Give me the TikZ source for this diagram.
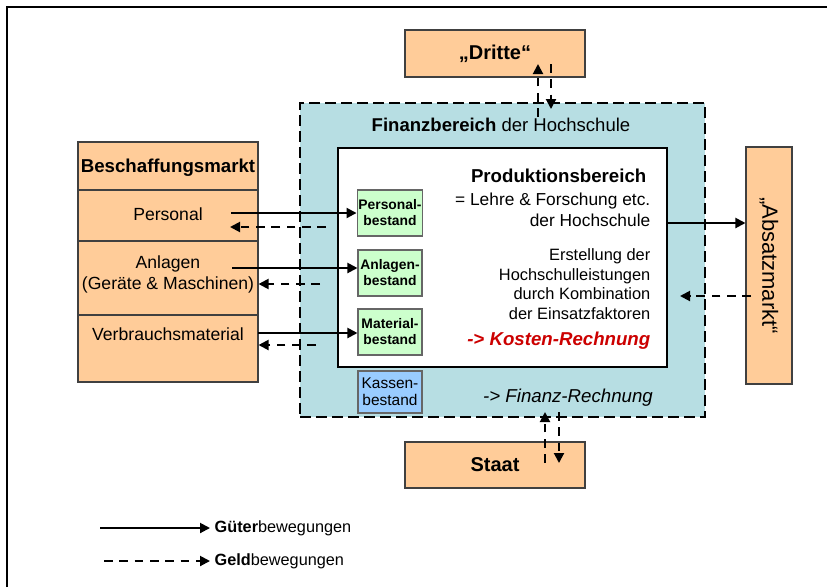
\documentclass[tikz,border=0pt]{standalone}
\usepackage{fontspec}
\setmainfont{Liberation Sans}
\usetikzlibrary{arrows.meta}
\definecolor{Peach}{RGB}{255,204,153}
\definecolor{Aqua}{RGB}{183,222,227}
\definecolor{Mint}{RGB}{204,255,204}
\definecolor{Sky}{RGB}{153,204,255}
\definecolor{Rust}{RGB}{204,0,0}
\newcommand\fs[2]{\fontsize{#1}{#2}\selectfont}

\begin{document}
\begin{tikzpicture}[
  x=0.75pt,
  y=-0.75pt,
  every node/.style={font=\fs{13.2}{15.75}},
  ware/.style={-{Triangle[length=7.5pt,width=7.5pt]}, line width=1.5pt},
  geld/.style={ware, dash pattern=on 6.5pt off 5pt},
  markt/.style={draw=black!75, fill=Peach, line width=0.8pt},
  bestand/.style={draw=black!60, fill=Mint, line width=0.8pt,
    minimum width=48pt, minimum height=34.5pt, inner sep=1pt,
    align=center, font=\fs{10.4}{12}\bfseries}
  ]
\useasboundingbox (0,0) rectangle (827,587);
\draw[line width=2pt] (7,587) -- (7,7) -- (827,7);

% Finanzbereich und Produktionsbereich
\node[draw, fill=Aqua, line width=1.8pt, dash pattern=on 8pt off 4pt,
  minimum width=303.75pt, minimum height=235.5pt] (finanz) at (502.5,260) {};
\node[font=\fs{13.9}{16}] (ftitle) at (501,125)
  {\textbf{Finanzbereich} der Hochschule};
\node[draw, fill=white, line width=1.8pt,
  minimum width=246.75pt, minimum height=164.25pt] (prod) at (502.5,257.5) {};
\node[anchor=east, font=\fs{14}{16}\bfseries] (ptitle) at (651,176)
  {Produktionsbereich};
\node[anchor=east, align=right, font=\fs{13}{15.75}] (plehre) at (655,210)
  {= Lehre \& Forschung etc.\\der Hochschule};
\node[anchor=east, align=right, font=\fs{12.3}{14.6}] (perst) at (655,284)
  {Erstellung der\\Hochschulleistungen\\durch Kombination\\der Einsatzfaktoren};
\node[anchor=east, text=Rust, font=\fs{14}{16}\bfseries\itshape] (kosten)
  at (655,341) {-> Kosten-Rechnung};
\node[font=\fs{14}{16}\itshape] (frech) at (568,398) {-> Finanz-Rechnung};

% Bestaende
\foreach \n/\y/\t in {pb/213/Personal-\\bestand,
  ab/273/Anlagen-\\bestand, mb/332/Material-\\bestand}
  \node[bestand] (\n) at (390,\y) {\t};
\node[bestand, fill=Sky, minimum height=31.5pt, font=\fs{11.6}{13}] (kb)
  at (390,392) {Kassen-\\bestand};

% Maerkte
\node[markt, minimum width=135pt, minimum height=180pt] (markt) at (168,262) {};
\foreach \y in {190,241,315}
  \draw[draw=black!75, line width=0.8pt] (78,\y) -- (258,\y);
\node[font=\fs{14}{16}\bfseries] (mtitle) at (168,168) {Beschaffungsmarkt};
\node (pers) at (168,214) {Personal};
\node[align=center] (anl) at (168,274) {Anlagen\\(Geräte \& Maschinen)};
\node (verb) at (168,334) {Verbrauchsmaterial};
\node[markt, minimum width=135pt, minimum height=35.25pt,
  font=\fs{15}{17}\bfseries] (dritte) at (495,53.5) {„Dritte“};
\node[markt, minimum width=135pt, minimum height=34.5pt,
  font=\fs{15}{17}\bfseries] (staat) at (495,465) {Staat};
\node[markt, minimum width=34.5pt, minimum height=177.75pt] (absatz)
  at (769,265.5) {};
\node[rotate=-90, font=\fs{16.5}{18}] (atext) at (absatz) {„Absatzmarkt“};

% Gueter- und Geldstroeme
\coordinate (p0) at (231,213);
\coordinate (p1) at (326,227);
\coordinate (p2) at (230,227);
\coordinate (a0) at (232,268);
\coordinate (a1) at (320,284);
\coordinate (v0) at (258,333);
\coordinate (v1) at (316,345);
\draw[ware] (p0) -- (p0 -| pb.west);
\draw[geld] (p1) -- (p2);
\draw[ware] (a0) -- (a0 -| ab.west);
\draw[geld] (a1) -- (a1 -| markt.east);
\draw[ware] (v0) -- (v0 -| mb.west);
\draw[geld] (v1) -- (v1 -| markt.east);

\coordinate (o0) at (667,223);
\coordinate (o1) at (751,296);
\coordinate (o2) at (680,296);
\draw[ware] (o0) -- (o0 -| absatz.west);
\draw[geld] (o1) -- (o2);

\coordinate (d0) at (538,117);
\coordinate (d1) at (538,64);
\coordinate (d2) at (551,64);
\coordinate (d3) at (551,109);
\draw[geld] (d0) -- (d1);
\draw[geld] (d2) -- (d3);
\coordinate (s0) at (545,463);
\coordinate (s1) at (545,412);
\coordinate (s2) at (559,412);
\coordinate (s3) at (559,463);
\draw[geld] (s0) -- (s1);
\draw[geld] (s2) -- (s3);

% Legende
\node[anchor=west, font=\fs{12.2}{14}] (lgut) at (210,528)
  {\textbf{Güter}bewegungen};
\node[anchor=west, font=\fs{12.2}{14}] (lgeld) at (210,561)
  {\textbf{Geld}bewegungen};
\coordinate (l0) at (100,528);
\coordinate (l1) at (104,561);
\draw[ware] (l0) -- (l0 -| lgut.west);
\draw[geld] (l1) -- (l1 -| lgeld.west);
\end{tikzpicture}
\end{document}
